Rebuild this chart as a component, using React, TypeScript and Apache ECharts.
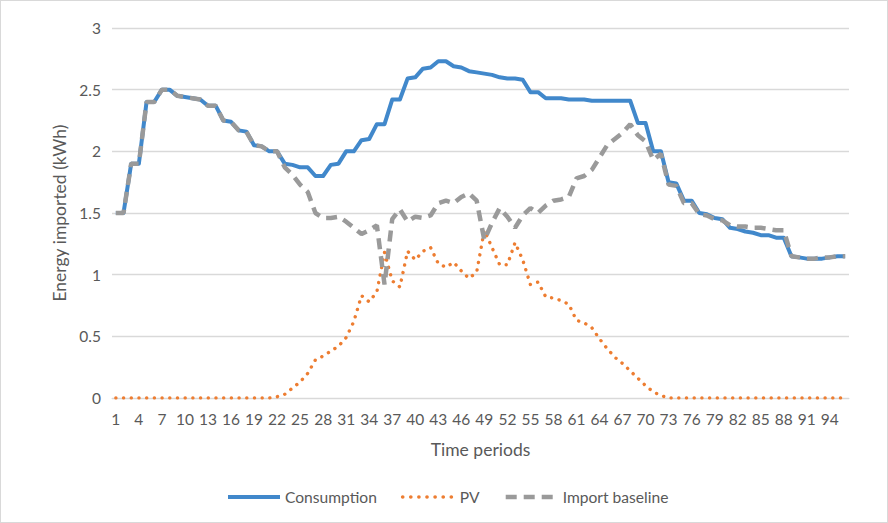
import React, { useEffect, useRef } from "react";
import * as echarts from "echarts";

// Half-hour settlement periods 1..96
const periods: string[] = Array.from({ length: 96 }, (_, i) => String(i + 1));

const consumption: number[] = [
  1.5, 1.5, 1.9, 1.9, 2.4, 2.4, 2.5, 2.5, 2.45, 2.44,
  2.43, 2.42, 2.37, 2.37, 2.25, 2.24, 2.17, 2.16, 2.05, 2.04,
  2.0, 2.0, 1.9, 1.89, 1.87, 1.87, 1.8, 1.8, 1.89, 1.9,
  2.0, 2.0, 2.09, 2.1, 2.22, 2.22, 2.42, 2.42, 2.59, 2.6,
  2.67, 2.68, 2.73, 2.73, 2.69, 2.68, 2.65, 2.64, 2.63, 2.62,
  2.6, 2.59, 2.59, 2.58, 2.48, 2.48, 2.43, 2.43, 2.43, 2.42,
  2.42, 2.42, 2.41, 2.41, 2.41, 2.41, 2.41, 2.41, 2.23, 2.23,
  2.0, 2.0, 1.75, 1.74, 1.6, 1.6, 1.5, 1.49, 1.46, 1.45,
  1.38, 1.37, 1.35, 1.34, 1.32, 1.32, 1.3, 1.3, 1.15, 1.14,
  1.13, 1.13, 1.13, 1.14, 1.15, 1.15,
];

const pv: number[] = [
  0, 0, 0, 0, 0, 0, 0, 0, 0, 0,
  0, 0, 0, 0, 0, 0, 0, 0, 0, 0,
  0, 0.01, 0.03, 0.08, 0.13, 0.2, 0.31, 0.34, 0.38, 0.42,
  0.49, 0.62, 0.83, 0.78, 0.86, 1.18, 0.95, 0.9, 1.19, 1.12,
  1.19, 1.22, 1.09, 1.06, 1.1, 1.03, 0.97, 1.02, 1.36, 1.22,
  1.08, 1.08, 1.26, 1.12, 0.92, 0.94, 0.82, 0.81, 0.79, 0.76,
  0.63, 0.61, 0.57, 0.48, 0.4, 0.33, 0.28, 0.22, 0.16, 0.1,
  0.05, 0.02, 0, 0, 0, 0, 0, 0, 0, 0,
  0, 0, 0, 0, 0, 0, 0, 0, 0, 0,
  0, 0, 0, 0, 0, 0,
];

const importBaseline: number[] = [
  1.5, 1.5, 1.9, 1.9, 2.4, 2.4, 2.5, 2.5, 2.45, 2.44,
  2.43, 2.42, 2.37, 2.37, 2.25, 2.24, 2.17, 2.16, 2.05, 2.04,
  2.0, 2.0, 1.87, 1.81, 1.73, 1.67, 1.5, 1.46, 1.46, 1.47,
  1.43, 1.38, 1.33, 1.36, 1.4, 0.92, 1.45, 1.53, 1.43, 1.47,
  1.46, 1.48, 1.58, 1.6, 1.58, 1.63, 1.66, 1.6, 1.28, 1.42,
  1.54, 1.47, 1.38, 1.48, 1.54, 1.5, 1.56, 1.6, 1.61, 1.63,
  1.78, 1.8, 1.85, 1.95, 2.05, 2.1, 2.15, 2.22, 2.13, 2.08,
  1.93, 1.98, 1.73, 1.72, 1.58, 1.58, 1.49, 1.48, 1.45, 1.44,
  1.4, 1.39, 1.39, 1.38, 1.38, 1.37, 1.36, 1.36, 1.15, 1.14,
  1.13, 1.13, 1.14, 1.14, 1.15, 1.15,
];

const FONT = "Lato, 'Open Sans', sans-serif";
const TEXT = "#595959";
const GRID = "#d9d9d9";
const BLUE = "#4188cb";
const ORANGE = "#ed7d31";
const GREY = "#9a9a9a";

export default function App() {
  const ref = useRef<HTMLDivElement>(null);

  useEffect(() => {
    document.body.style.margin = "0";
    if (!ref.current) return;
    const chart = echarts.init(ref.current, undefined, { renderer: "svg" });
    chart.setOption({
      animation: false,
      backgroundColor: "#ffffff",
      textStyle: { fontFamily: FONT },
      grid: { left: 111, right: 38, top: 27, bottom: 124, containLabel: false },
      legend: {
        bottom: 12,
        left: 220,
        itemWidth: 52,
        itemHeight: 14,
        itemGap: 24,
        itemStyle: { opacity: 0 },
        textStyle: { color: TEXT, fontSize: 15.6, fontFamily: FONT },
        data: [
          { name: "Consumption", lineStyle: { color: BLUE, width: 4 } },
          { name: "PV", lineStyle: { color: ORANGE, width: 3.6, type: [0.1, 8], cap: "round" } },
          { name: "Import baseline", lineStyle: { color: GREY, width: 4.5, type: [11, 7] } },
        ],
      },
      xAxis: {
        type: "category",
        data: periods,
        boundaryGap: true,
        name: "Time periods",
        nameLocation: "middle",
        nameGap: 42,
        nameTextStyle: { color: TEXT, fontSize: 17.5, fontFamily: FONT },
        axisLine: { lineStyle: { color: GRID, width: 1 } },
        axisTick: { show: false },
        axisLabel: { interval: 2, color: TEXT, fontSize: 15.5, margin: 13, fontFamily: FONT },
        splitLine: { show: false },
      },
      yAxis: {
        type: "value",
        min: 0,
        max: 3,
        interval: 0.5,
        name: "Energy imported (kWh)",
        nameLocation: "middle",
        nameGap: 40,
        nameTextStyle: { color: TEXT, fontSize: 17.5, fontFamily: FONT },
        axisLine: { show: false },
        axisTick: { show: false },
        axisLabel: { color: TEXT, fontSize: 15.5, margin: 11, fontFamily: FONT },
        splitLine: { lineStyle: { color: GRID, width: 1.3 } },
      },
      series: [
        {
          name: "Consumption",
          type: "line",
          data: consumption,
          symbol: "none",
          color: BLUE,
          lineStyle: { color: BLUE, width: 4, join: "round" },
          z: 3,
        },
        {
          name: "PV",
          type: "line",
          data: pv,
          symbol: "none",
          color: ORANGE,
          lineStyle: { color: ORANGE, width: 3.4, type: [0.1, 7.6], cap: "round" },
          z: 2,
        },
        {
          name: "Import baseline",
          type: "line",
          data: importBaseline,
          symbol: "none",
          color: GREY,
          lineStyle: { color: GREY, width: 4.5, type: [11, 7] },
          z: 4,
        },
      ],
    });
    return () => chart.dispose();
  }, []);

  return (
    <div
      style={{
        position: "absolute",
        left: 0,
        top: 0,
        width: 886,
        height: 521,
        border: "1px solid #d9d9d9",
        background: "#fff",
      }}
    >
      <div ref={ref} style={{ width: 886, height: 521 }} />
    </div>
  );
}
